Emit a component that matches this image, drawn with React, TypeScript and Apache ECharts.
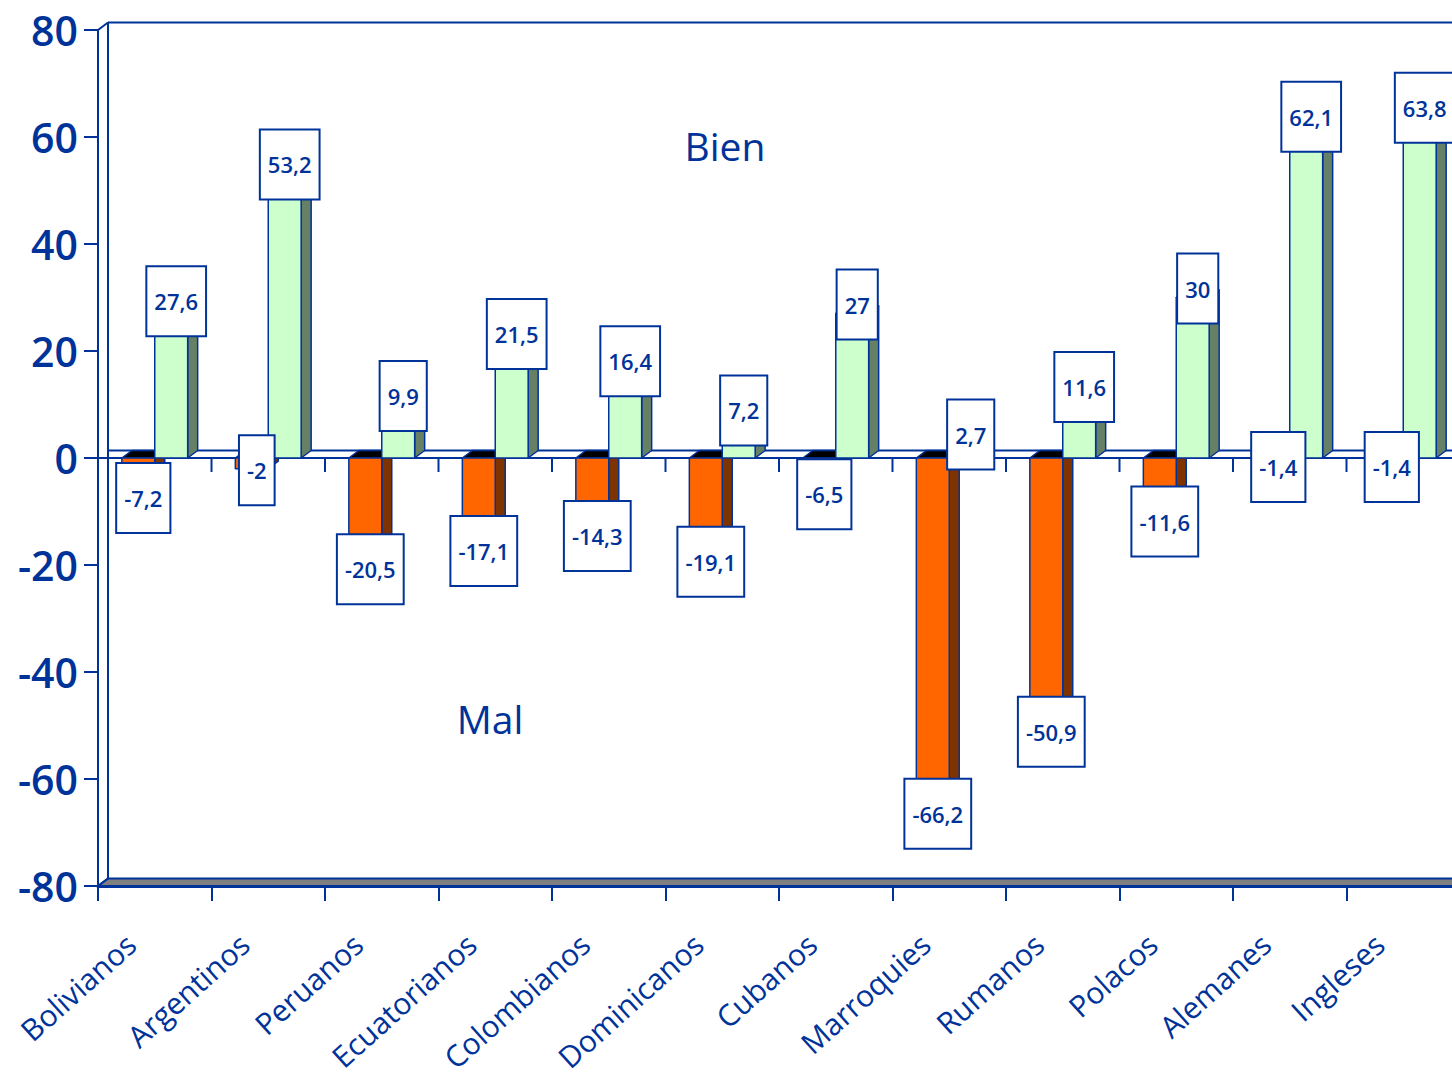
import React, { useEffect, useRef } from "react";
import * as echarts from "echarts";

const CATEGORIES = [
  "Bolivianos",
  "Argentinos",
  "Peruanos",
  "Ecuatorianos",
  "Colombianos",
  "Dominicanos",
  "Cubanos",
  "Marroquies",
  "Rumanos",
  "Polacos",
  "Alemanes",
  "Ingleses",
];
const MAL = [-7.2, -2, -20.5, -17.1, -14.3, -19.1, -6.5, -66.2, -50.9, -11.6, -1.4, -1.4];
const BIEN = [27.6, 53.2, 9.9, 21.5, 16.4, 7.2, 27, 2.7, 11.6, 30, 62.1, 63.8];
const Y_MIN = -80;
const Y_MAX = 80;
const Y_STEP = 20;

const BLUE = "#003399";
const FONT = "'Open Sans', 'Noto Sans', sans-serif";
const DX = 10;
const DY = -7.5;
const BAR_FRAC = 0.29;

const MAL_COLORS = { front: "#ff6600", side: "#7f3300", top: "#000000" };
const BIEN_COLORS = { front: "#ccffcc", side: "#668066", top: "#b8e6b8" };

function fmt(v: number) {
  return String(v).replace(".", ",");
}

function barRenderer(side: "left" | "right", colors: any) {
  return (params: any, api: any) => {
    const i = api.value(0);
    const v = api.value(1);
    const pv = api.coord([i, v]);
    const p0 = api.coord([i, 0]);
    const band = api.size([1, 0])[0];
    const bw = band * BAR_FRAC;
    const x0 = side === "left" ? pv[0] - bw : pv[0];
    const x1 = x0 + bw;
    const yT = Math.min(pv[1], p0[1]);
    const yB = Math.max(pv[1], p0[1]);
    const st = { stroke: BLUE, lineWidth: 1.5, lineJoin: "round" };
    return {
      type: "group",
      children: [
        {
          type: "polygon",
          shape: { points: [[x1, yT], [x1 + DX, yT + DY], [x1 + DX, yB + DY], [x1, yB]] },
          style: { fill: colors.side, ...st },
        },
        {
          type: "polygon",
          shape: { points: [[x0, yT], [x0 + DX, yT + DY], [x1 + DX, yT + DY], [x1, yT]] },
          style: { fill: colors.top, ...st },
        },
        {
          type: "rect",
          shape: { x: x0, y: yT, width: bw, height: yB - yT },
          style: { fill: colors.front, ...st },
        },
      ],
    };
  };
}

function labelRenderer(side: "left" | "right") {
  return (params: any, api: any) => {
    const i = api.value(0);
    const v = api.value(1);
    const pv = api.coord([i, v]);
    const band = api.size([1, 0])[0];
    const bw = band * BAR_FRAC;
    const x0 = side === "left" ? pv[0] - bw : pv[0];
    const cx = x0 + bw / 2 + DX / 2;
    const cy = v >= 0 ? pv[1] - 9 : pv[1] + 1.5;
    return {
      type: "text",
      x: cx,
      y: cy,
      style: {
        text: fmt(v),
        fill: BLUE,
        fontSize: 22,
        fontWeight: 600,
        fontFamily: FONT,
        align: "center",
        verticalAlign: "middle",
        backgroundColor: "#ffffff",
        borderColor: BLUE,
        borderWidth: 2,
        padding: [18, 7, 26, 7],
        lineHeight: 24,
      },
    };
  };
}

function frameRenderer(params: any, api: any) {
  const band = api.size([1, 0])[0];
  const left = api.coord([0, 0])[0] - band / 2;
  const right = api.coord([CATEGORIES.length - 1, 0])[0] + band / 2;
  const yTop = api.coord([0, Y_MAX])[1];
  const yBot = api.coord([0, Y_MIN])[1];
  const yZ = api.coord([0, 0])[1];
  const ls = { stroke: BLUE, lineWidth: 2 };
  const children: any[] = [
    {
      type: "polygon",
      shape: { points: [[left, yBot], [left + DX, yBot + DY], [right + DX, yBot + DY], [right, yBot]] },
      style: { fill: "#808080", stroke: BLUE, lineWidth: 2 },
    },
    { type: "line", shape: { x1: left + DX, y1: yTop + DY, x2: left + DX, y2: yBot + DY }, style: ls },
    { type: "line", shape: { x1: left + DX, y1: yTop + DY, x2: right + DX, y2: yTop + DY }, style: ls },
    { type: "line", shape: { x1: left, y1: yTop, x2: left + DX, y2: yTop + DY }, style: ls },
    { type: "line", shape: { x1: left, y1: yBot, x2: left + DX, y2: yBot + DY }, style: ls },
    { type: "line", shape: { x1: left + DX, y1: yZ + DY, x2: right + DX, y2: yZ + DY }, style: ls },
    { type: "line", shape: { x1: left, y1: yZ, x2: right, y2: yZ }, style: ls },
  ];
  for (let k = 1; k <= CATEGORIES.length; k++) {
    const x = left + k * band;
    children.push({ type: "line", shape: { x1: x, y1: yZ, x2: x, y2: yZ + 14 }, style: ls });
  }
  return { type: "group", children };
}

export default function App() {
  const ref = useRef<HTMLDivElement>(null);
  useEffect(() => {
    if (!ref.current) return;
    const chart = echarts.init(ref.current, undefined, { renderer: "svg" });
    const malData = MAL.map((v, i) => [i, v]);
    const bienData = BIEN.map((v, i) => [i, v]);
    chart.setOption({
      animation: false,
      backgroundColor: "#ffffff",
      grid: { left: 98, width: 1362, top: 30, bottom: 191, containLabel: false },
      xAxis: {
        type: "category",
        data: CATEGORIES,
        boundaryGap: true,
        axisLine: { show: true, onZero: false, lineStyle: { color: BLUE, width: 3 } },
        axisTick: { show: true, length: 15, interval: 0, lineStyle: { color: BLUE, width: 2 } },
        axisLabel: {
          interval: 0,
          rotate: 42,
          margin: 32,
          padding: [0, 32, 0, 0],
          color: BLUE,
          fontSize: 30,
          fontFamily: FONT,
        },
        splitLine: { show: false },
      },
      yAxis: {
        type: "value",
        min: Y_MIN,
        max: Y_MAX,
        interval: Y_STEP,
        axisLine: { show: true, lineStyle: { color: BLUE, width: 2 } },
        axisTick: { show: true, length: 14, lineStyle: { color: BLUE, width: 2 } },
        axisLabel: { color: BLUE, fontSize: 41, fontWeight: 600, fontFamily: FONT, margin: 20 },
        splitLine: { show: false },
      },
      graphic: [
        {
          type: "text",
          x: 725,
          y: 145,
          style: { text: "Bien", fill: BLUE, fontSize: 39, fontFamily: FONT, align: "center", verticalAlign: "middle" },
          z: 100,
        },
        {
          type: "text",
          x: 490,
          y: 718,
          style: { text: "Mal", fill: BLUE, fontSize: 39, fontFamily: FONT, align: "center", verticalAlign: "middle" },
          z: 100,
        },
      ],
      series: [
        { type: "custom", name: "frame", data: [[0, 0]], renderItem: frameRenderer, clip: false, silent: true, z: 1 },
        { type: "custom", name: "Mal", data: malData, renderItem: barRenderer("left", MAL_COLORS), clip: false, silent: true, z: 2 },
        { type: "custom", name: "Bien", data: bienData, renderItem: barRenderer("right", BIEN_COLORS), clip: false, silent: true, z: 3 },
        { type: "custom", name: "MalLabels", data: malData, renderItem: labelRenderer("left"), clip: false, silent: true, z: 10 },
        { type: "custom", name: "BienLabels", data: bienData, renderItem: labelRenderer("right"), clip: false, silent: true, z: 11 },
      ],
    });
    return () => chart.dispose();
  }, []);
  return (
    <div
      style={{
        position: "absolute",
        left: 0,
        top: 0,
        width: 1452,
        height: 1077,
        overflow: "hidden",
        background: "#ffffff",
      }}
    >
      <div ref={ref} style={{ position: "absolute", left: 0, top: 0, width: 1480, height: 1077 }} />
    </div>
  );
}
